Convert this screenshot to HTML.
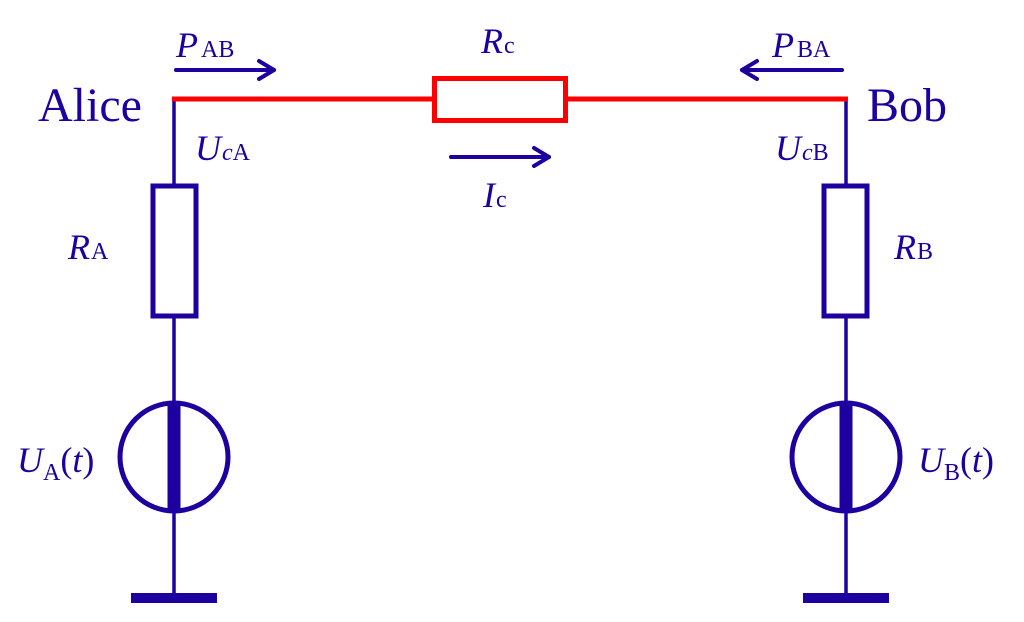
<!DOCTYPE html>
<html><head><meta charset="utf-8"><style>
html,body{margin:0;padding:0;background:#fff;}
svg{display:block;}
text{font-family:"Liberation Serif",serif;fill:#1e00a0;}
.i{font-style:italic;}
</style></head><body>
<svg width="1024" height="622" viewBox="0 0 1024 622" xmlns="http://www.w3.org/2000/svg">
<g stroke="#1e00a0" fill="none">
 <!-- left branch -->
 <line x1="174" y1="99" x2="174" y2="186" stroke-width="3.5"/>
 <rect x="153" y="186" width="43" height="130" stroke-width="5"/>
 <line x1="174" y1="316" x2="174" y2="598" stroke-width="3.5"/>
 <circle cx="174" cy="457" r="54" stroke-width="5"/>
 <line x1="174" y1="403" x2="174" y2="511" stroke-width="13"/>
 <line x1="131" y1="598" x2="217" y2="598" stroke-width="10"/>
 <!-- right branch -->
 <line x1="846" y1="99" x2="846" y2="186" stroke-width="3.5"/>
 <rect x="824" y="186" width="43" height="130" stroke-width="5"/>
 <line x1="846" y1="316" x2="846" y2="598" stroke-width="3.5"/>
 <circle cx="846" cy="457" r="54" stroke-width="5"/>
 <line x1="846" y1="403" x2="846" y2="511" stroke-width="13"/>
 <line x1="803" y1="598" x2="889" y2="598" stroke-width="10"/>
 <!-- arrows -->
 <g stroke-width="4" stroke-linecap="round" stroke-linejoin="round">
  <line x1="176" y1="70" x2="274" y2="70"/><polyline points="259,61 274,70 259,79"/>
  <line x1="842" y1="70" x2="742" y2="70"/><polyline points="757,61 742,70 757,79"/>
  <line x1="451" y1="157" x2="549" y2="157"/><polyline points="534,148 549,157 534,166"/>
 </g>
</g>
<g stroke="#ff0000" fill="none" stroke-width="5">
 <line x1="172" y1="99" x2="433" y2="99"/>
 <line x1="567" y1="99" x2="848" y2="99"/>
 <rect x="434.5" y="78.5" width="131" height="42" fill="#fff"/>
</g>
<text x="38" y="121" font-size="48">Alice</text>
<text x="867" y="121" font-size="48">Bob</text>
<text x="176" y="57" font-size="36"><tspan class="i">P</tspan><tspan font-size="24" dx="3">AB</tspan></text>
<text x="772" y="57" font-size="36"><tspan class="i">P</tspan><tspan font-size="24" dx="3">BA</tspan></text>
<text x="481" y="53" font-size="36"><tspan class="i">R</tspan><tspan font-size="24" dx="1">c</tspan></text>
<text x="483" y="207" font-size="36"><tspan class="i">I</tspan><tspan font-size="24" dx="1">c</tspan></text>
<text x="195" y="160" font-size="36"><tspan class="i">U</tspan><tspan font-size="24" class="i" dx="1">c</tspan><tspan font-size="24">A</tspan></text>
<text x="775" y="160" font-size="36"><tspan class="i">U</tspan><tspan font-size="24" class="i" dx="1">c</tspan><tspan font-size="24">B</tspan></text>
<text x="68" y="259" font-size="36"><tspan class="i">R</tspan><tspan font-size="24" dx="1">A</tspan></text>
<text x="894" y="259" font-size="36"><tspan class="i">R</tspan><tspan font-size="24" dx="1">B</tspan></text>
<text x="17" y="472" font-size="36"><tspan class="i">U</tspan><tspan font-size="24" dy="8">A</tspan><tspan dy="-8">(</tspan><tspan class="i">t</tspan>)</text>
<text x="918" y="472" font-size="36"><tspan class="i">U</tspan><tspan font-size="24" dy="8">B</tspan><tspan dy="-8">(</tspan><tspan class="i">t</tspan>)</text>
</svg>
</body></html>
